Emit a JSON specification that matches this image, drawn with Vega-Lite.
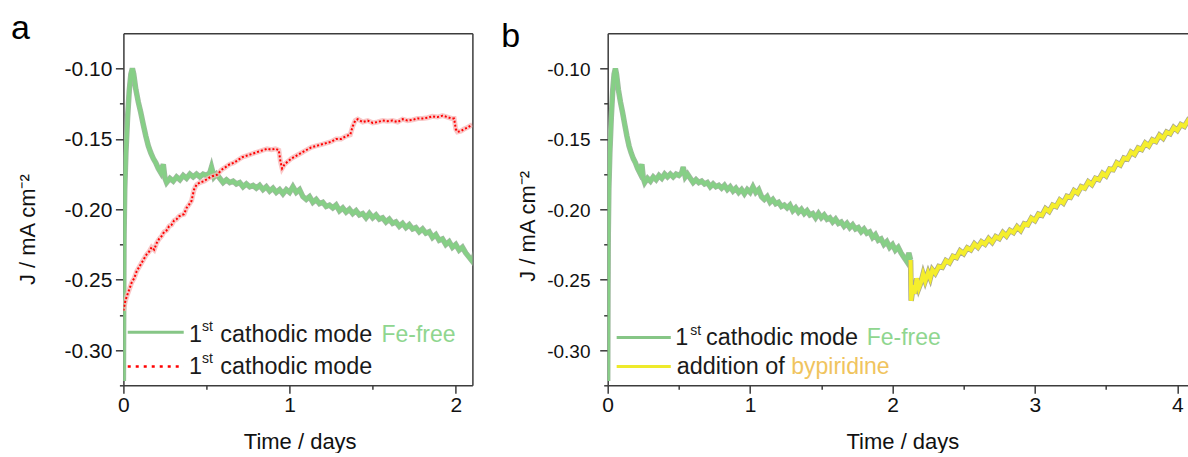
{
"$schema": "https://vega.github.io/schema/vega-lite/v6.json",
"padding": {"left": 10.4, "top": 11.3, "right": 0, "bottom": 0},
"autosize": {"type": "pad"},
"bounds": "flush",
"spacing": 135.3,
"config": {
  "view": {"stroke": null},
  "font": "Liberation Sans",
  "axis": {"grid": false, "domainColor": "#3c3c3c", "domainWidth": 1.5, "tickColor": "#3c3c3c", "tickWidth": 1.5, "tickSize": 8, "labelOverlap": false, "labelFlush": false,
    "labelFont": "Liberation Sans", "labelFontSize": 21, "labelColor": "#111111", "titleFont": "Liberation Sans", "titleFontSize": 22, "titleFontWeight": "normal", "titleColor": "#111111"},
  "title": {"font": "Liberation Sans", "fontWeight": "normal", "color": "#000000"}
},
"datasets": {
  "fefree": [{"t":0,"J":-0.322},{"t":0.002,"J":-0.262},{"t":0.004,"J":-0.218},{"t":0.008,"J":-0.186},{"t":0.015,"J":-0.16},{"t":0.025,"J":-0.135},{"t":0.035,"J":-0.116},{"t":0.045,"J":-0.104},{"t":0.054,"J":-0.1},{"t":0.062,"J":-0.104},{"t":0.075,"J":-0.115},{"t":0.09,"J":-0.124},{"t":0.104,"J":-0.131},{"t":0.12,"J":-0.14},{"t":0.135,"J":-0.148},{"t":0.15,"J":-0.155},{"t":0.165,"J":-0.16},{"t":0.18,"J":-0.164},{"t":0.195,"J":-0.167},{"t":0.21,"J":-0.171},{"t":0.225,"J":-0.174},{"t":0.24,"J":-0.168},{"t":0.25,"J":-0.178},{"t":0.26,"J":-0.181},{"t":0.28,"J":-0.178},{"t":0.3,"J":-0.18},{"t":0.32,"J":-0.177},{"t":0.34,"J":-0.179},{"t":0.36,"J":-0.176},{"t":0.38,"J":-0.178},{"t":0.4,"J":-0.175},{"t":0.42,"J":-0.177},{"t":0.44,"J":-0.175},{"t":0.46,"J":-0.177},{"t":0.48,"J":-0.175},{"t":0.5,"J":-0.176},{"t":0.52,"J":-0.174},{"t":0.53,"J":-0.17},{"t":0.545,"J":-0.177},{"t":0.56,"J":-0.175},{"t":0.58,"J":-0.178},{"t":0.6,"J":-0.181},{"t":0.62,"J":-0.179},{"t":0.64,"J":-0.181},{"t":0.66,"J":-0.18},{"t":0.68,"J":-0.182},{"t":0.7,"J":-0.181},{"t":0.72,"J":-0.184},{"t":0.74,"J":-0.182},{"t":0.76,"J":-0.184},{"t":0.78,"J":-0.183},{"t":0.8,"J":-0.185},{"t":0.82,"J":-0.183},{"t":0.84,"J":-0.186},{"t":0.86,"J":-0.184},{"t":0.88,"J":-0.187},{"t":0.9,"J":-0.185},{"t":0.92,"J":-0.188},{"t":0.94,"J":-0.186},{"t":0.96,"J":-0.189},{"t":0.98,"J":-0.186},{"t":1.0,"J":-0.188},{"t":1.02,"J":-0.184},{"t":1.04,"J":-0.188},{"t":1.06,"J":-0.186},{"t":1.08,"J":-0.191},{"t":1.1,"J":-0.193},{"t":1.12,"J":-0.191},{"t":1.14,"J":-0.195},{"t":1.16,"J":-0.193},{"t":1.18,"J":-0.196},{"t":1.2,"J":-0.195},{"t":1.22,"J":-0.198},{"t":1.24,"J":-0.197},{"t":1.26,"J":-0.199},{"t":1.28,"J":-0.197},{"t":1.3,"J":-0.201},{"t":1.32,"J":-0.199},{"t":1.34,"J":-0.202},{"t":1.36,"J":-0.2},{"t":1.38,"J":-0.203},{"t":1.4,"J":-0.201},{"t":1.42,"J":-0.204},{"t":1.44,"J":-0.203},{"t":1.46,"J":-0.206},{"t":1.48,"J":-0.203},{"t":1.5,"J":-0.206},{"t":1.52,"J":-0.204},{"t":1.54,"J":-0.207},{"t":1.56,"J":-0.206},{"t":1.58,"J":-0.209},{"t":1.6,"J":-0.207},{"t":1.62,"J":-0.21},{"t":1.64,"J":-0.209},{"t":1.66,"J":-0.212},{"t":1.68,"J":-0.21},{"t":1.7,"J":-0.213},{"t":1.72,"J":-0.211},{"t":1.74,"J":-0.214},{"t":1.76,"J":-0.213},{"t":1.78,"J":-0.216},{"t":1.8,"J":-0.214},{"t":1.82,"J":-0.217},{"t":1.84,"J":-0.216},{"t":1.86,"J":-0.22},{"t":1.88,"J":-0.218},{"t":1.9,"J":-0.222},{"t":1.92,"J":-0.221},{"t":1.94,"J":-0.225},{"t":1.96,"J":-0.223},{"t":1.98,"J":-0.227},{"t":2.0,"J":-0.225},{"t":2.02,"J":-0.229},{"t":2.04,"J":-0.227},{"t":2.06,"J":-0.231},{"t":2.08,"J":-0.234},{"t":2.1,"J":-0.237},{"t":2.115,"J":-0.231},{"t":2.127,"J":-0.236}],
  "cath": [{"t":0,"J":-0.272},{"t":0.01,"J":-0.266},{"t":0.02,"J":-0.262},{"t":0.035,"J":-0.257},{"t":0.05,"J":-0.252},{"t":0.065,"J":-0.249},{"t":0.08,"J":-0.244},{"t":0.095,"J":-0.241},{"t":0.11,"J":-0.238},{"t":0.125,"J":-0.235},{"t":0.14,"J":-0.232},{"t":0.155,"J":-0.23},{"t":0.17,"J":-0.227},{"t":0.185,"J":-0.2287},{"t":0.2,"J":-0.224},{"t":0.215,"J":-0.221},{"t":0.23,"J":-0.219},{"t":0.245,"J":-0.216},{"t":0.26,"J":-0.215},{"t":0.275,"J":-0.212},{"t":0.29,"J":-0.211},{"t":0.305,"J":-0.208},{"t":0.32,"J":-0.207},{"t":0.335,"J":-0.205},{"t":0.35,"J":-0.204},{"t":0.365,"J":-0.2035},{"t":0.38,"J":-0.199},{"t":0.395,"J":-0.1967},{"t":0.41,"J":-0.194},{"t":0.425,"J":-0.186},{"t":0.44,"J":-0.1825},{"t":0.46,"J":-0.181},{"t":0.485,"J":-0.18},{"t":0.51,"J":-0.178},{"t":0.535,"J":-0.1765},{"t":0.565,"J":-0.1754},{"t":0.59,"J":-0.172},{"t":0.615,"J":-0.17},{"t":0.64,"J":-0.168},{"t":0.665,"J":-0.167},{"t":0.69,"J":-0.165},{"t":0.715,"J":-0.163},{"t":0.74,"J":-0.162},{"t":0.765,"J":-0.161},{"t":0.79,"J":-0.16},{"t":0.815,"J":-0.159},{"t":0.84,"J":-0.158},{"t":0.865,"J":-0.157},{"t":0.89,"J":-0.1576},{"t":0.915,"J":-0.157},{"t":0.935,"J":-0.158},{"t":0.945,"J":-0.166},{"t":0.955,"J":-0.171},{"t":0.97,"J":-0.168},{"t":0.99,"J":-0.166},{"t":1.01,"J":-0.164},{"t":1.04,"J":-0.162},{"t":1.07,"J":-0.16},{"t":1.1,"J":-0.158},{"t":1.13,"J":-0.156},{"t":1.16,"J":-0.155},{"t":1.19,"J":-0.154},{"t":1.22,"J":-0.153},{"t":1.25,"J":-0.152},{"t":1.28,"J":-0.15},{"t":1.31,"J":-0.15},{"t":1.34,"J":-0.148},{"t":1.365,"J":-0.147},{"t":1.38,"J":-0.141},{"t":1.395,"J":-0.137},{"t":1.41,"J":-0.136},{"t":1.44,"J":-0.138},{"t":1.47,"J":-0.137},{"t":1.5,"J":-0.1386},{"t":1.53,"J":-0.138},{"t":1.56,"J":-0.137},{"t":1.59,"J":-0.1374},{"t":1.62,"J":-0.137},{"t":1.65,"J":-0.138},{"t":1.68,"J":-0.136},{"t":1.71,"J":-0.137},{"t":1.74,"J":-0.1365},{"t":1.77,"J":-0.1355},{"t":1.8,"J":-0.1355},{"t":1.83,"J":-0.135},{"t":1.86,"J":-0.134},{"t":1.89,"J":-0.1345},{"t":1.92,"J":-0.1335},{"t":1.95,"J":-0.1345},{"t":1.975,"J":-0.1355},{"t":1.99,"J":-0.1355},{"t":2.0,"J":-0.143},{"t":2.01,"J":-0.145},{"t":2.03,"J":-0.1445},{"t":2.05,"J":-0.143},{"t":2.07,"J":-0.142},{"t":2.09,"J":-0.1405},{"t":2.1,"J":-0.14}],
  "bpy": [{"t":2.127,"J":-0.236},{"t":2.131,"J":-0.265},{"t":2.145,"J":-0.254},{"t":2.155,"J":-0.26},{"t":2.17,"J":-0.249},{"t":2.185,"J":-0.256},{"t":2.2,"J":-0.252},{"t":2.215,"J":-0.246},{"t":2.23,"J":-0.251},{"t":2.25,"J":-0.245},{"t":2.265,"J":-0.249},{"t":2.28,"J":-0.243},{"t":2.3,"J":-0.2455},{"t":2.325,"J":-0.2406},{"t":2.35,"J":-0.2412},{"t":2.375,"J":-0.2364},{"t":2.4,"J":-0.238},{"t":2.425,"J":-0.2334},{"t":2.45,"J":-0.2343},{"t":2.475,"J":-0.2296},{"t":2.5,"J":-0.2315},{"t":2.525,"J":-0.2274},{"t":2.55,"J":-0.2288},{"t":2.575,"J":-0.2246},{"t":2.6,"J":-0.227},{"t":2.625,"J":-0.2231},{"t":2.65,"J":-0.2248},{"t":2.675,"J":-0.2209},{"t":2.7,"J":-0.2235},{"t":2.725,"J":-0.2194},{"t":2.75,"J":-0.2208},{"t":2.775,"J":-0.2166},{"t":2.8,"J":-0.219},{"t":2.825,"J":-0.215},{"t":2.85,"J":-0.2165},{"t":2.875,"J":-0.2125},{"t":2.9,"J":-0.215},{"t":2.925,"J":-0.2103},{"t":2.95,"J":-0.211},{"t":2.975,"J":-0.2063},{"t":3.0,"J":-0.208},{"t":3.025,"J":-0.2034},{"t":3.05,"J":-0.2043},{"t":3.075,"J":-0.1996},{"t":3.1,"J":-0.2015},{"t":3.125,"J":-0.197},{"t":3.15,"J":-0.198},{"t":3.175,"J":-0.1935},{"t":3.2,"J":-0.1955},{"t":3.225,"J":-0.1908},{"t":3.25,"J":-0.1915},{"t":3.275,"J":-0.1868},{"t":3.3,"J":-0.1885},{"t":3.325,"J":-0.184},{"t":3.35,"J":-0.185},{"t":3.375,"J":-0.1805},{"t":3.4,"J":-0.1825},{"t":3.425,"J":-0.178},{"t":3.45,"J":-0.1789},{"t":3.475,"J":-0.1744},{"t":3.5,"J":-0.1763},{"t":3.525,"J":-0.1714},{"t":3.55,"J":-0.1719},{"t":3.575,"J":-0.167},{"t":3.6,"J":-0.1685},{"t":3.625,"J":-0.1636},{"t":3.65,"J":-0.1643},{"t":3.675,"J":-0.1594},{"t":3.7,"J":-0.161},{"t":3.725,"J":-0.1565},{"t":3.75,"J":-0.1575},{"t":3.775,"J":-0.153},{"t":3.8,"J":-0.155},{"t":3.825,"J":-0.1506},{"t":3.85,"J":-0.1518},{"t":3.875,"J":-0.1474},{"t":3.9,"J":-0.1495},{"t":3.925,"J":-0.1451},{"t":3.95,"J":-0.1463},{"t":3.975,"J":-0.1419},{"t":4.0,"J":-0.144},{"t":4.025,"J":-0.1398},{"t":4.05,"J":-0.1411},{"t":4.075,"J":-0.137},{"t":4.1,"J":-0.1393}],
  "legA_sw": [{"s":"g","t":0.026,"J":-0.2873},{"s":"g","t":0.363,"J":-0.2873},{"s":"r","t":0.026,"J":-0.3117},{"s":"r","t":0.363,"J":-0.3117}],
  "legA_tx": [{"k":"n","t":0.394,"J":-0.2939,"text":"1"},{"k":"s","t":0.473,"J":-0.2863,"text":"st"},{"k":"n","t":0.583,"J":-0.2939,"text":"cathodic mode"},{"k":"h","t":1.553,"J":-0.2939,"text":"Fe-free"},{"k":"n","t":0.394,"J":-0.3171,"text":"1"},{"k":"s","t":0.473,"J":-0.3093,"text":"st"},{"k":"n","t":0.583,"J":-0.3171,"text":"cathodic mode"}],
  "legB_sw": [{"s":"g","t":0.063,"J":-0.291},{"s":"g","t":0.443,"J":-0.291},{"s":"y","t":0.063,"J":-0.3117},{"s":"y","t":0.443,"J":-0.3117}],
  "legB_tx": [{"k":"n","t":0.474,"J":-0.2967,"text":"1"},{"k":"s","t":0.58,"J":-0.2896,"text":"st"},{"k":"n","t":0.691,"J":-0.2967,"text":"cathodic mode"},{"k":"h","t":1.819,"J":-0.2967,"text":"Fe-free"},{"k":"n","t":0.485,"J":-0.3171,"text":"addition of"},{"k":"o","t":1.289,"J":-0.3171,"text":"bypiridine"}]
},
"hconcat": [
{
  "width": 349, "height": 352,
  "title": {"text": "a", "anchor": "start", "frame": "group", "orient": "top", "offset": 0, "dx": -112.3, "dy": 39.7, "baseline": "alphabetic", "fontSize": 34},
  "resolve": {"axis": {"x": "independent", "y": "independent"}},
  "layer": [
    {"data": {"name": "fefree"}, "mark": {"type": "line", "color": "#9fb99f", "strokeWidth": 5.5, "clip": true},
     "encoding": {
       "x": {"field": "t", "type": "quantitative", "scale": {"domain": [0, 2.1], "nice": false, "zero": false},
             "axis": {"orient": "bottom", "values": [0, 1, 2], "labelExpr": "datum.value === 0 ? '0' : datum.value === 1 ? '1' : '2'", "labelOverlap": false, "labelFlush": false, "labelBound": false, "labelPadding": 1, "title": "Time / days", "titleX": 176.3, "titleY": 46.7, "titleBaseline": "top"}},
       "y": {"field": "J", "type": "quantitative", "scale": {"domain": [-0.325, -0.075], "nice": false, "zero": false},
             "axis": {"orient": "left", "values": [-0.3, -0.25, -0.2, -0.15, -0.1], "format": ".2f", "labelExpr": "replace(datum.label, '\u2212', '-')", "labelPadding": 3.5, "labelOffset": 1, "title": "J / mA cm\u207b\u00b2", "titleX": -96, "titleY": 195.8, "titleBaseline": "middle"}}
     }},
    {"data": {"name": "fefree"}, "mark": {"type": "line", "color": "#86cf86", "strokeWidth": 4, "clip": true},
     "encoding": {
       "x": {"field": "t", "type": "quantitative", "axis": {"orient": "bottom", "values": [0.5, 1.5], "tickSize": 4, "labels": false, "domain": false, "title": null}},
       "y": {"field": "J", "type": "quantitative", "axis": {"orient": "left", "values": [-0.325, -0.275, -0.225, -0.175, -0.125], "tickSize": 4, "labels": false, "domain": false, "title": null}}
     }},
    {"data": {"name": "cath"}, "mark": {"type": "line", "color": "#f7b5b5", "strokeWidth": 5, "opacity": 0.75, "clip": true},
     "encoding": {
       "x": {"field": "t", "type": "quantitative", "axis": {"orient": "top", "ticks": false, "labels": false, "title": null}},
       "y": {"field": "J", "type": "quantitative", "axis": {"orient": "right", "ticks": false, "labels": false, "title": null}}
     }},
    {"data": {"name": "cath"}, "mark": {"type": "line", "color": "#ff0000", "strokeWidth": 2, "strokeDash": [2, 2], "clip": true},
     "encoding": {"x": {"field": "t", "type": "quantitative", "axis": null}, "y": {"field": "J", "type": "quantitative", "axis": null}}},
    {"data": {"name": "legA_sw"}, "transform": [{"filter": "datum.s === 'g'"}], "mark": {"type": "line", "color": "#86c686", "strokeWidth": 3},
     "encoding": {"x": {"field": "t", "type": "quantitative", "axis": null}, "y": {"field": "J", "type": "quantitative", "axis": null}}},
    {"data": {"name": "legA_sw"}, "transform": [{"filter": "datum.s === 'r'"}], "mark": {"type": "line", "color": "#ff0000", "strokeWidth": 2.5, "strokeDash": [3, 5]},
     "encoding": {"x": {"field": "t", "type": "quantitative", "axis": null}, "y": {"field": "J", "type": "quantitative", "axis": null}}},
    {"data": {"name": "legA_tx"}, "transform": [{"filter": "datum.k === 'n'"}], "mark": {"type": "text", "align": "left", "baseline": "alphabetic", "fontSize": 23.4, "color": "#1a1a1a", "font": "Liberation Sans"},
     "encoding": {"x": {"field": "t", "type": "quantitative", "axis": null}, "y": {"field": "J", "type": "quantitative", "axis": null}, "text": {"field": "text"}}},
    {"data": {"name": "legA_tx"}, "transform": [{"filter": "datum.k === 's'"}], "mark": {"type": "text", "align": "left", "baseline": "alphabetic", "fontSize": 14, "color": "#1a1a1a", "font": "Liberation Sans"},
     "encoding": {"x": {"field": "t", "type": "quantitative", "axis": null}, "y": {"field": "J", "type": "quantitative", "axis": null}, "text": {"field": "text"}}},
    {"data": {"name": "legA_tx"}, "transform": [{"filter": "datum.k === 'h'"}], "mark": {"type": "text", "align": "left", "baseline": "alphabetic", "fontSize": 23, "color": "#8fd68f", "font": "Liberation Sans"},
     "encoding": {"x": {"field": "t", "type": "quantitative", "axis": null}, "y": {"field": "J", "type": "quantitative", "axis": null}, "text": {"field": "text"}}}
  ]
},
{
  "width": 581, "height": 352,
  "title": {"text": "b", "anchor": "start", "frame": "group", "orient": "top", "offset": 0, "dx": -106.5, "dy": 47.8, "baseline": "alphabetic", "fontSize": 34},
  "resolve": {"axis": {"x": "independent", "y": "independent"}},
  "layer": [
    {"data": {"name": "fefree"}, "mark": {"type": "line", "color": "#9fb99f", "strokeWidth": 5.5, "clip": true},
     "encoding": {
       "x": {"field": "t", "type": "quantitative", "scale": {"domain": [0, 4.08], "nice": false, "zero": false},
             "axis": {"orient": "bottom", "values": [0, 1, 2, 3, 4], "format": "d", "labelPadding": 1, "title": "Time / days", "titleX": 294.7, "titleY": 46.7, "titleBaseline": "top"}},
       "y": {"field": "J", "type": "quantitative", "scale": {"domain": [-0.325, -0.075], "nice": false, "zero": false},
             "axis": {"orient": "left", "values": [-0.3, -0.25, -0.2, -0.15, -0.1], "format": ".2f", "labelExpr": "replace(datum.label, '\u2212', '-')", "labelFontSize": 19, "labelPadding": 9.7, "labelOffset": 1, "title": "J / mA cm\u207b\u00b2", "titleX": -80.3, "titleY": 192.5, "titleBaseline": "middle"}}
     }},
    {"data": {"name": "fefree"}, "mark": {"type": "line", "color": "#86cf86", "strokeWidth": 4, "clip": true},
     "encoding": {
       "x": {"field": "t", "type": "quantitative", "axis": {"orient": "bottom", "values": [0.5, 1.5, 2.5, 3.5], "tickSize": 4, "labels": false, "domain": false, "title": null}},
       "y": {"field": "J", "type": "quantitative", "axis": {"orient": "left", "values": [-0.325, -0.275, -0.225, -0.175, -0.125], "tickSize": 4, "labels": false, "domain": false, "title": null}}
     }},
    {"data": {"name": "bpy"}, "mark": {"type": "line", "color": "#aaa88c", "strokeWidth": 5.5, "clip": true},
     "encoding": {
       "x": {"field": "t", "type": "quantitative", "axis": {"orient": "top", "ticks": false, "labels": false, "title": null}},
       "y": {"field": "J", "type": "quantitative", "axis": null}
     }},
    {"data": {"name": "bpy"}, "mark": {"type": "line", "color": "#f5ee2c", "strokeWidth": 4, "clip": true},
     "encoding": {"x": {"field": "t", "type": "quantitative", "axis": null}, "y": {"field": "J", "type": "quantitative", "axis": null}}},
    {"data": {"name": "legB_sw"}, "transform": [{"filter": "datum.s === 'g'"}], "mark": {"type": "line", "color": "#86c686", "strokeWidth": 3},
     "encoding": {"x": {"field": "t", "type": "quantitative", "axis": null}, "y": {"field": "J", "type": "quantitative", "axis": null}}},
    {"data": {"name": "legB_sw"}, "transform": [{"filter": "datum.s === 'y'"}], "mark": {"type": "line", "color": "#eeea2a", "strokeWidth": 3},
     "encoding": {"x": {"field": "t", "type": "quantitative", "axis": null}, "y": {"field": "J", "type": "quantitative", "axis": null}}},
    {"data": {"name": "legB_tx"}, "transform": [{"filter": "datum.k === 'n'"}], "mark": {"type": "text", "align": "left", "baseline": "alphabetic", "fontSize": 23.4, "color": "#1a1a1a", "font": "Liberation Sans"},
     "encoding": {"x": {"field": "t", "type": "quantitative", "axis": null}, "y": {"field": "J", "type": "quantitative", "axis": null}, "text": {"field": "text"}}},
    {"data": {"name": "legB_tx"}, "transform": [{"filter": "datum.k === 's'"}], "mark": {"type": "text", "align": "left", "baseline": "alphabetic", "fontSize": 14, "color": "#1a1a1a", "font": "Liberation Sans"},
     "encoding": {"x": {"field": "t", "type": "quantitative", "axis": null}, "y": {"field": "J", "type": "quantitative", "axis": null}, "text": {"field": "text"}}},
    {"data": {"name": "legB_tx"}, "transform": [{"filter": "datum.k === 'h'"}], "mark": {"type": "text", "align": "left", "baseline": "alphabetic", "fontSize": 23, "color": "#8fd68f", "font": "Liberation Sans"},
     "encoding": {"x": {"field": "t", "type": "quantitative", "axis": null}, "y": {"field": "J", "type": "quantitative", "axis": null}, "text": {"field": "text"}}},
    {"data": {"name": "legB_tx"}, "transform": [{"filter": "datum.k === 'o'"}], "mark": {"type": "text", "align": "left", "baseline": "alphabetic", "fontSize": 23, "color": "#f0c45e", "font": "Liberation Sans"},
     "encoding": {"x": {"field": "t", "type": "quantitative", "axis": null}, "y": {"field": "J", "type": "quantitative", "axis": null}, "text": {"field": "text"}}}
  ]
}
]
}
